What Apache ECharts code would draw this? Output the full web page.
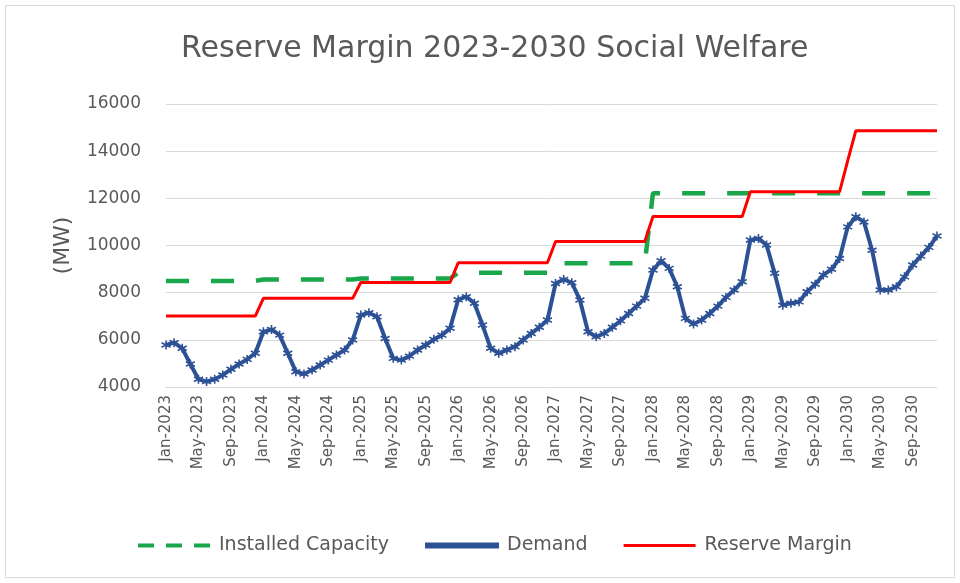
<!DOCTYPE html>
<html>
<head>
<meta charset="utf-8">
<script src="https://cdn.jsdelivr.net/npm/echarts@6/dist/echarts.min.js"></script>
<style>
html,body{margin:0;padding:0;background:#fff;}
#chart{width:960px;height:583px;}
</style>
</head>
<body>
<div id="chart"></div>
<script>
// ---- data ----
const monthNames = ["Jan","Feb","Mar","Apr","May","Jun","Jul","Aug","Sep","Oct","Nov","Dec"];
const years = [2023,2024,2025,2026,2027,2028,2029,2030];
const categories = [];
years.forEach(y => monthNames.forEach(m => categories.push(m + "-" + y)));

const yTicks = [4000, 6000, 8000, 10000, 12000, 14000, 16000];

const installedCapacity = [
  8500,8500,8500,8500,8500,8500,8500,8500,8500,8500,8500,8500,
  8560,8560,8560,8560,8560,8560,8560,8560,8560,8560,8560,8560,
  8600,8600,8600,8600,8600,8600,8600,8600,8600,8600,8600,8600,
  8840,8840,8840,8840,8840,8840,8840,8840,8840,8840,8840,8840,
  9250,9250,9250,9250,9250,9250,9250,9250,9250,9250,9250,9250,
  12220,12220,12220,12220,12220,12220,12220,12220,12220,12220,12220,12220,
  12220,12220,12220,12220,12220,12220,12220,12220,12220,12220,12220,12220,
  12220,12220,12220,12220,12220,12220,12220,12220,12220,12220,12220,12220
];

const demand = [
  5780,5880,5640,4975,4330,4230,4330,4510,4750,4975,5170,5430,
  6340,6440,6200,5430,4650,4550,4720,4930,5140,5360,5570,5990,
  7050,7150,6980,6060,5215,5140,5310,5570,5780,6020,6200,6490,
  7700,7830,7550,6630,5640,5430,5570,5710,5990,6270,6530,6840,
  8390,8560,8420,7690,6340,6130,6270,6530,6810,7120,7430,7760,
  8960,9350,9030,8250,6910,6670,6840,7120,7430,7800,8110,8460,
  10230,10300,10020,8820,7470,7550,7610,8040,8360,8750,8990,9450,
  10790,11220,11000,9800,8110,8110,8250,8670,9170,9550,9920,10400
];

const reserveMargin = [
  7010,7010,7010,7010,7010,7010,7010,7010,7010,7010,7010,7010,
  7760,7760,7760,7760,7760,7760,7760,7760,7760,7760,7760,7760,
  8430,8430,8430,8430,8430,8430,8430,8430,8430,8430,8430,8430,
  9270,9270,9270,9270,9270,9270,9270,9270,9270,9270,9270,9270,
  10170,10170,10170,10170,10170,10170,10170,10170,10170,10170,10170,10170,
  11230,11230,11230,11230,11230,11230,11230,11230,11230,11230,11230,11230,
  12280,12280,12280,12280,12280,12280,12280,12280,12280,12280,12280,12280,
  13600,14870,14870,14870,14870,14870,14870,14870,14870,14870,14870,14870
];

// ---- chart ----
const FONT = "DejaVu Sans";
const GREY = "#595959";
const BLUE = "#2d5195";
const GREEN = "#1aa64a";
const RED = "#ff0000";
const chart = echarts.init(document.getElementById("chart"), null, {renderer: "canvas"});
chart.setOption({
  animation: false,
  backgroundColor: "#ffffff",
  textStyle: {fontFamily: FONT},
  graphic: [{
    type: "rect", silent: true,
    shape: {x: 5.5, y: 5.5, width: 949, height: 572},
    style: {fill: "none", stroke: "#d9d9d9", lineWidth: 1}
  }],
  title: {
    text: "Reserve Margin 2023-2030 Social Welfare",
    left: 176, top: 29,
    textStyle: {fontFamily: FONT, fontSize: 30, fontWeight: "normal", color: GREY}
  },
  legend: {
    bottom: 23, left: 133,
    itemWidth: 72, itemHeight: 4, itemGap: 36,
    textStyle: {fontFamily: FONT, fontSize: 19, color: GREY, padding: [0, 0, 0, 4]},
    data: [
      {name: "Installed Capacity", icon: "path://M0,0h16v4h-16zM28,0h16v4h-16zM56,0h16v4h-16z"},
      {name: "Demand", icon: "path://M0,0h72v4h-72z"},
      {name: "Reserve Margin", icon: "path://M0,0h72v3h-72z"}
    ]
  },
  grid: {left: 166, right: 23, top: 104, bottom: 196, containLabel: false},
  xAxis: {
    type: "category",
    data: categories,
    boundaryGap: false,
    axisLine: {show: true, lineStyle: {color: "#d9d9d9"}},
    axisTick: {show: false},
    axisLabel: {interval: 3, rotate: 90, fontSize: 15, color: GREY, fontFamily: FONT, margin: 8},
    splitLine: {show: false}
  },
  yAxis: {
    type: "value",
    min: yTicks[0], max: yTicks[yTicks.length - 1], interval: 2000,
    name: "(MW)", nameLocation: "middle", nameGap: 92, nameRotate: 90,
    nameTextStyle: {fontFamily: FONT, fontSize: 22, color: GREY},
    axisLine: {show: false}, axisTick: {show: false},
    axisLabel: {fontSize: 17, color: GREY, fontFamily: FONT, margin: 25,
      formatter: v => String(v)},
    splitLine: {lineStyle: {color: "#d9d9d9", width: 1}}
  },
  series: [
    {
      name: "Installed Capacity", type: "line", data: installedCapacity,
      symbol: "none", z: 2,
      lineStyle: {color: GREEN, width: 4.5, type: [23, 22]},
      itemStyle: {color: GREEN}
    },
    {
      name: "Demand", type: "line", data: demand, z: 3,
      symbol: "path://M5,0L5,10M0.7,2.5L9.3,7.5M0.7,7.5L9.3,2.5",
      symbolSize: 9, showSymbol: true, showAllSymbol: true,
      lineStyle: {color: BLUE, width: 4},
      itemStyle: {color: BLUE, borderColor: BLUE, borderWidth: 1.6}
    },
    {
      name: "Reserve Margin", type: "line", data: reserveMargin,
      symbol: "none", z: 4,
      lineStyle: {color: RED, width: 3},
      itemStyle: {color: RED}
    }
  ]
});
</script>
</body>
</html>
